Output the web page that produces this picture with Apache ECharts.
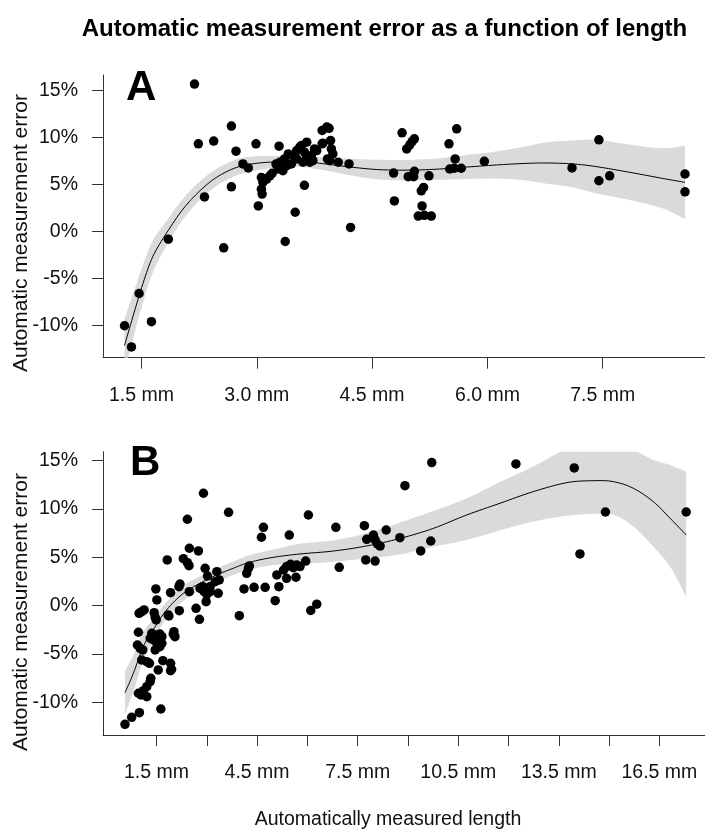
<!DOCTYPE html>
<html>
<head>
<meta charset="utf-8">
<script src="https://cdn.jsdelivr.net/npm/echarts@6/dist/echarts.min.js"></script>
<style>
  html, body { margin: 0; padding: 0; background: #fff; }
  #chart { width: 705px; height: 834px; }
</style>
</head>
<body>
<div id="chart"></div>
<script>
// Panel A: automatically measured length (mm) and measurement error (%)
var aLength = [2.19, 2.67, 2.24, 2.44, 2.73, 2.99, 3.29, 2.82, 2.89, 2.67, 2.32, 3.02, 1.85, 2.57, 3.37, 3.50,
  3.62, 4.22, 1.47, 1.28, 1.37, 1.63, 4.20, 4.78, 4.79, 3.85, 3.91, 3.94, 3.96, 3.86, 3.97, 3.99, 3.92, 3.95,
  4.06, 3.75, 3.65, 3.58, 3.71, 3.06, 3.08, 3.06, 3.07, 3.13, 3.17, 3.20, 3.28, 3.32, 3.36, 3.41, 3.47, 3.52,
  3.56, 3.62, 3.65, 3.60, 3.52, 3.45, 3.39, 3.34, 3.30, 3.69, 3.73, 3.78, 3.25, 3.85, 4.89, 4.95, 4.99, 5.02,
  5.05, 4.97, 5.04, 5.05, 5.24, 5.14, 5.17, 5.15, 5.10, 5.18, 5.27, 5.50, 5.60, 5.58, 5.51, 5.57, 5.66, 5.96,
  7.10, 7.45, 7.45, 7.59, 8.57, 8.57];
var aError = [15.70, 11.24, 9.35, 9.64, 8.57, 9.35, 9.10, 7.21, 6.78, 4.78, 3.70, 2.74, -0.79, -1.71, -1.04, 2.07,
  4.93, 0.46, -6.57, -10.00, -12.25, -9.57, 7.21, 6.24, 3.28, 10.77, 11.13, 11.00, 9.70, 9.42, 8.81, 8.28, 7.74, 7.56,
  7.39, 8.81, 9.53, 9.17, 8.09, 5.78, 5.25, 4.53, 4.00, 5.60, 5.95, 6.21, 6.67, 7.21, 7.74, 8.28, 8.09, 8.63,
  8.99, 8.46, 7.92, 7.39, 7.74, 7.21, 7.02, 6.49, 7.39, 7.39, 7.56, 8.63, 7.20, 9.35, 10.52, 8.81, 9.24, 9.59,
  9.88, 5.85, 5.85, 6.42, 5.95, 4.35, 4.71, 2.74, 1.67, 1.75, 1.67, 9.35, 10.95, 7.74, 6.67, 6.75, 6.75, 7.49,
  6.78, 9.78, 5.42, 5.95, 6.14, 4.24];

// Panel A: smoothed fit with its confidence band
var aFitX = [1.28, 1.39, 1.52, 1.65, 1.83, 2.04, 2.26, 2.48, 2.74, 3.00, 3.30, 3.56, 3.90, 4.25, 4.60, 5.00,
  5.38, 5.68, 6.12, 6.45, 6.77, 7.11, 7.42, 7.85, 8.28, 8.57];
var aFit = [-12.1, -9.0, -5.5, -2.6, -0.1, 2.4, 4.35, 5.8, 6.85, 7.28, 7.45, 7.5, 7.2, 6.85, 6.6, 6.55,
  6.67, 6.85, 7.1, 7.25, 7.31, 7.21, 6.92, 6.32, 5.67, 5.25];
var aLow = [-14.9, -11.4, -7.5, -4.3, -1.4, 1.3, 3.35, 4.9, 6.0, 6.53, 6.85, 6.9, 6.5, 5.95, 5.55, 5.45,
  5.52, 5.6, 5.65, 5.5, 5.11, 4.71, 4.07, 3.37, 2.47, 1.35];
var aHigh = [-9.3, -6.6, -3.5, -0.9, 1.2, 3.5, 5.35, 6.7, 7.7, 8.03, 8.05, 8.1, 7.9, 7.75, 7.65, 7.65,
  7.82, 8.1, 8.55, 9.0, 9.51, 9.71, 9.77, 9.27, 8.87, 9.15];

// Panel B: automatically measured length (mm) and measurement error (%)
var bLength = [2.90, 3.65, 2.42, 6.03, 4.69, 4.63, 5.46, 2.48, 2.75, 1.82, 2.30, 2.42, 2.47, 2.95, 3.02, 3.30,
  3.37, 3.25, 2.88, 2.92, 3.00, 3.10, 2.98, 3.34, 3.00, 3.10, 2.80, 4.24, 4.19, 4.27, 4.11, 4.41, 4.74, 5.04,
  3.97, 5.09, 5.15, 5.29, 5.38, 5.50, 5.58, 5.68, 5.38, 5.66, 5.95, 5.78, 6.10, 6.28, 2.48, 2.20, 2.17, 1.92,
  1.48, 1.51, 1.85, 1.87, 2.18, 2.68, 2.78, 0.98, 1.06, 1.13, 1.43, 1.46, 1.49, 0.96, 1.36, 1.46, 1.60, 1.31,
  1.41, 1.55, 1.66, 1.51, 1.60, 1.46, 1.66, 0.93, 1.01, 1.09, 2.02, 2.00, 2.05, 1.06, 1.21, 1.29, 1.69, 1.92,
  1.95, 1.92, 1.55, 1.33, 1.31, 1.21, 1.11, 0.96, 1.04, 1.21, 0.99, 0.76, 0.56, 1.63, 6.85, 7.70, 7.77, 7.74,
  6.95, 7.97, 8.09, 8.17, 8.02, 8.02, 8.35, 8.76, 8.91, 9.71, 9.38, 9.68, 12.22, 13.96, 14.13, 14.89, 17.30];
var bError = [11.63, 9.66, 8.94, 9.38, 8.11, 7.08, 7.31, 5.94, 5.66, 4.73, 4.86, 4.45, 4.14, 3.87, 3.07, 3.52,
  2.66, 2.48, 1.97, 1.45, 1.18, 1.45, 0.41, 1.28, 1.62, 1.97, 1.80, 3.87, 3.35, 4.11, 1.73, 1.90, 1.90, 0.52,
  -1.03, 3.18, 1.97, 3.69, 4.04, 4.28, 3.93, 4.21, 2.83, 2.94, 4.62, 4.04, -0.50, 0.16, 1.45, 2.24, 1.97, 1.35,
  1.73, 0.59, -0.96, -1.07, -0.52, -0.27, -1.41, -0.79, -0.62, -0.44, -0.72, -1.20, -1.48, -2.75, -2.86, -3.03, -2.93, -3.37,
  -3.55, -3.37, -3.21, -3.89, -4.24, -4.58, -3.89, -4.07, -4.41, -4.58, -2.69, -2.93, -3.21, -5.62, -5.79, -5.96, -5.69, -5.96,
  -6.58, -6.72, -6.65, -7.51, -7.86, -8.38, -8.79, -9.06, -9.24, -9.41, -11.07, -11.55, -12.27, -10.69, 8.11, 8.28, 6.87, 4.73,
  3.97, 7.31, 6.38, 6.17, 6.80, 4.62, 7.83, 7.04, 12.42, 14.80, 5.66, 6.69, 14.66, 14.25, 5.35, 9.69, 9.69];

// Panel B: smoothed fit with its confidence band
var bFitX = [0.56, 0.81, 1.10, 1.40, 1.80, 2.30, 2.80, 3.30, 3.79, 4.29, 4.98, 5.78, 6.77, 7.77, 8.76, 9.76,
  10.75, 11.75, 12.74, 13.74, 14.53, 15.13, 15.72, 16.32, 16.82, 17.30];
var bFit = [-9.0, -7.0, -4.25, -2.5, -0.45, 1.28, 2.32, 3.18, 3.87, 4.5, 5.0, 5.35, 5.65, 6.18, 6.95, 8.0,
  9.38, 10.6, 11.8, 12.73, 12.93, 12.83, 12.15, 10.76, 9.04, 7.31];
var bLow = [-11.2, -8.9, -5.75, -3.6, -1.3, 0.5, 1.6, 2.48, 3.17, 3.75, 4.2, 4.3, 4.55, 4.9, 5.3, 6.1,
  6.8, 7.8, 8.7, 9.3, 9.5, 9.4, 8.2, 6.1, 4.04, 0.9];
var bHigh = [-6.8, -5.1, -2.75, -1.4, 0.4, 2.06, 3.04, 3.88, 4.57, 5.25, 5.8, 6.4, 6.75, 7.49, 8.6, 9.8,
  11.1, 12.8, 14.4, 16.2, 16.5, 16.4, 16.1, 15.07, 14.56, 13.86];

// Axis ticks and labels
var yTicks = [-10, -5, 0, 5, 10, 15];
var aTicks = [1.5, 3.0, 4.5, 6.0, 7.5];
var bTicks = [1.5, 3.0, 4.5, 6.0, 7.5, 9.0, 10.5, 12.0, 13.5, 15.0, 16.5];
var bTickLabels = [1.5, 4.5, 7.5, 10.5, 13.5, 16.5];

var FONT = '"Liberation Sans", Arial, Helvetica, sans-serif';
var AXIS_COLOR = '#333';
var BAND_COLOR = '#dadada';

function pairs(xs, ys) {
  var out = [];
  for (var i = 0; i < xs.length; i++) out.push([xs[i], ys[i]]);
  return out;
}

// Catmull-Rom resampling of an already projected pixel polyline
function spline(pts, steps) {
  var out = [];
  var n = pts.length;
  for (var i = 0; i < n - 1; i++) {
    var p0 = pts[Math.max(i - 1, 0)], p1 = pts[i], p2 = pts[i + 1], p3 = pts[Math.min(i + 2, n - 1)];
    for (var s = 0; s < steps; s++) {
      var t = s / steps, t2 = t * t, t3 = t2 * t;
      var pt = [0, 0];
      for (var k = 0; k < 2; k++) {
        pt[k] = 0.5 * ((2 * p1[k]) + (-p0[k] + p2[k]) * t +
          (2 * p0[k] - 5 * p1[k] + 4 * p2[k] - p3[k]) * t2 +
          (-p0[k] + 3 * p1[k] - 3 * p2[k] + p3[k]) * t3);
      }
      out.push(pt);
    }
  }
  out.push(pts[n - 1]);
  return out;
}

function xAxisFor(gridIndex, min, max, ticks, labels) {
  return {
    type: 'value', gridIndex: gridIndex, min: min, max: max,
    splitLine: { show: false },
    axisLine: { show: true, onZero: false, lineStyle: { color: AXIS_COLOR, width: 1 } },
    axisTick: { show: true, inside: false, length: 11, customValues: ticks, lineStyle: { color: AXIS_COLOR } },
    axisLabel: {
      show: true, customValues: labels, margin: 28, color: '#111',
      fontFamily: FONT, fontSize: 19.5,
      formatter: function (v) { return v.toFixed(1) + ' mm'; }
    }
  };
}
function yAxisFor(gridIndex, min, max) {
  return {
    type: 'value', gridIndex: gridIndex, min: min, max: max,
    splitLine: { show: false },
    axisLine: { show: true, onZero: false, lineStyle: { color: AXIS_COLOR, width: 1 } },
    axisTick: { show: true, inside: false, length: 11, customValues: yTicks, lineStyle: { color: AXIS_COLOR } },
    axisLabel: {
      show: true, customValues: yTicks, margin: 25, color: '#111',
      fontFamily: FONT, fontSize: 19.5,
      formatter: function (v) { return v + '%'; }
    }
  };
}

function panelSeries(idx, fx, fit, lo, hi, px, py) {
  return [
    {
      // confidence band: upper edge left-to-right, lower edge back right-to-left
      type: 'custom', xAxisIndex: idx, yAxisIndex: idx, clip: true, silent: true, z: 1,
      data: [0],
      renderItem: function (params, api) {
        var top = [], bottom = [];
        for (var i = 0; i < fx.length; i++) {
          top.push(api.coord([fx[i], hi[i]]));
          bottom.push(api.coord([fx[i], lo[i]]));
        }
        var pts = spline(top, 8).concat(spline(bottom, 8).reverse());
        return { type: 'polygon', shape: { points: pts }, style: { fill: BAND_COLOR } };
      }
    },
    {
      type: 'custom', xAxisIndex: idx, yAxisIndex: idx, clip: true, silent: true, z: 2,
      data: [0],
      renderItem: function (params, api) {
        var line = [];
        for (var i = 0; i < fx.length; i++) line.push(api.coord([fx[i], fit[i]]));
        return { type: 'polyline', shape: { points: spline(line, 8) },
          style: { stroke: '#000', lineWidth: 1, fill: null } };
      }
    },
    {
      type: 'scatter', xAxisIndex: idx, yAxisIndex: idx,
      data: pairs(px, py), symbol: 'circle', symbolSize: 9.5, silent: true, z: 3,
      itemStyle: { color: '#000', opacity: 1 }
    }
  ];
}

var chart = echarts.init(document.getElementById('chart'), null, { renderer: 'canvas' });
chart.setOption({
  animation: false,
  backgroundColor: '#fff',
  grid: [
    { left: 103, top: 75, width: 602, height: 282.7, containLabel: false },
    { left: 103, top: 451.7, width: 602, height: 283.3, containLabel: false }
  ],
  xAxis: [
    xAxisFor(0, 1.0, 8.83, aTicks, aTicks),
    xAxisFor(1, -0.096, 17.86, bTicks, bTickLabels)
  ],
  yAxis: [
    yAxisFor(0, -13.40, 16.67),
    yAxisFor(1, -13.38, 15.93)
  ],
  series: panelSeries(0, aFitX, aFit, aLow, aHigh, aLength, aError)
    .concat(panelSeries(1, bFitX, bFit, bLow, bHigh, bLength, bError)),
  graphic: [
    {
      type: 'text', x: 384.5, y: 29, silent: true,
      style: { text: 'Automatic measurement error as a function of length', font: 'bold 24px ' + FONT,
        fill: '#000', textAlign: 'center', textVerticalAlign: 'middle', align: 'center', verticalAlign: 'middle' }
    },
    {
      type: 'text', x: 126, y: 109, silent: true, z: 10,
      style: { text: 'A', font: 'bold 42px ' + FONT, fill: '#000',
        textAlign: 'left', textVerticalAlign: 'bottom', align: 'left', verticalAlign: 'bottom' }
    },
    {
      type: 'text', x: 130, y: 484, silent: true, z: 10,
      style: { text: 'B', font: 'bold 42px ' + FONT, fill: '#000',
        textAlign: 'left', textVerticalAlign: 'bottom', align: 'left', verticalAlign: 'bottom' }
    },
    {
      type: 'text', x: 21, y: 233, rotation: Math.PI / 2, silent: true,
      style: { text: 'Automatic measurement error', font: '21px ' + FONT, fill: '#111',
        textAlign: 'center', textVerticalAlign: 'middle', align: 'center', verticalAlign: 'middle' }
    },
    {
      type: 'text', x: 21, y: 612, rotation: Math.PI / 2, silent: true,
      style: { text: 'Automatic measurement error', font: '21px ' + FONT, fill: '#111',
        textAlign: 'center', textVerticalAlign: 'middle', align: 'center', verticalAlign: 'middle' }
    },
    {
      type: 'text', x: 388, y: 820, silent: true,
      style: { text: 'Automatically measured length', font: '19.5px ' + FONT, fill: '#111',
        textAlign: 'center', textVerticalAlign: 'middle', align: 'center', verticalAlign: 'middle' }
    }
  ]
});
</script>
</body>
</html>
